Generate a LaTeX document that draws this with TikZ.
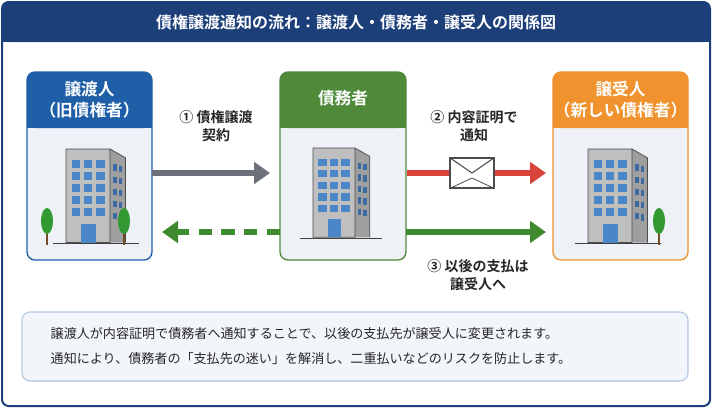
\documentclass[tikz,border=0pt]{standalone}
\usepackage{fontspec}
\setmainfont{Noto Sans CJK JP}[BoldFont={Noto Sans CJK JP Bold}]
\usetikzlibrary{arrows.meta,decorations.pathmorphing}
\definecolor{navy}{HTML}{1C3F7A}
\definecolor{hblue}{HTML}{1F5FA8}
\definecolor{hgreen}{HTML}{4E8A3A}
\definecolor{horange}{HTML}{F0922E}
\definecolor{bodyg}{HTML}{EEF2F7}
\definecolor{win}{HTML}{4A86C8}
\definecolor{redA}{HTML}{D9443A}
\definecolor{greenA}{HTML}{3F8A2E}
\definecolor{grayA}{HTML}{6B7079}
\tikzset{
 card/.style={draw=#1,line width=1pt,rounded corners=6,fill=bodyg},
 htext/.style={text=white,font=\bfseries\fontsize{12.5}{15.5}\selectfont,align=center},
 lab/.style={font=\bfseries\fontsize{10.5}{14}\selectfont,align=center,text=black!85},
 pics/bldg/.style={code={
   \fill[gray!50] (0,0) rectangle (40,85);
   \fill[gray!75] (40,0)--(54,8)--(54,85)--(40,85)--cycle;
   \draw[black!70,line width=0.6pt] (0,0) rectangle (40,85) (40,0)--(54,8)--(54,85);
   \foreach \i in {0,1,2} \foreach \j in {0,...,4}
     \fill[win] (5+\i*11,10+\j*11) rectangle ++(8,7);
   \foreach \j in {0,...,4} {\fill[win!80!black] (43,14+\j*11) rectangle ++(3,6);
     \fill[win!80!black] (48,15+\j*11) rectangle ++(3,6);}
   \fill[win] (14,68) rectangle (27,85);
   \draw[black!75,line width=1pt] (-12,86)--(66,86);
 }},
 pics/tree/.style={code={
   \fill[brown!60!black] (-1,0) rectangle (1,-12);
   \fill[green!50!black!80] (0,-24) ellipse (6 and 13);
 }}
}
\begin{document}
\begin{tikzpicture}[x=0.75pt,y=-0.75pt]
\useasboundingbox (0,0) rectangle (712,408);
\fill[white] (0,0) rectangle (712,408);
\draw[navy,line width=1.5pt,rounded corners=5,fill=white] (2,2) rectangle (710,406);
\fill[navy,rounded corners=5] (2,2) rectangle (710,42);
\fill[navy] (2,25) rectangle (710,42);
\node[text=white,font=\bfseries\fontsize{12}{14}\selectfont] (title) at (356,22) {債権譲渡通知の流れ：譲渡人・債務者・譲受人の関係図};
\draw[card=hblue] (27,72) rectangle (152,260);
\fill[hblue,rounded corners=6] (27,72) rectangle (152,128);
\fill[hblue] (27,110) rectangle (152,128);
\node[htext] (left) at (89.5,100) {譲渡人\\（旧債権者）};
\draw[card=hgreen] (280,72) rectangle (406,260);
\fill[hgreen,rounded corners=6] (280,72) rectangle (406,128);
\fill[hgreen] (280,110) rectangle (406,128);
\node[htext] (mid) at (343,98) {債務者};
\draw[card=horange] (553,72) rectangle (688,260);
\fill[horange,rounded corners=6] (553,72) rectangle (688,128);
\fill[horange] (553,110) rectangle (688,128);
\node[htext] (right) at (620.5,100) {譲受人\\（新しい債権者）};
\pic[scale=1.1] at (66,149) {bldg};
\pic at (47,245) {tree};
\pic at (124,245) {tree};
\pic[scale=1.05] at (313,148) {bldg};
\pic[scale=1.1] at (588,149) {bldg};
\pic at (659,245) {tree};
\coordinate (a1s) at (152,173); \coordinate (a1e) at (270,173);
\draw[grayA,line width=5pt,-{Triangle[length=12pt,width=16pt]}] (a1s)--(a1e);
\node[lab] (l1) at (216,126) {① 債権譲渡\\契約};
\node[draw=black!70,fill=white,line width=0.8pt,minimum width=44pt*0.75,minimum height=30pt*0.75,inner sep=0] (env) at (472,173) {};
\draw[black!70,line width=0.8pt] (env.north west)--(env.center)--(env.north east);
\draw[black!70,line width=0.6pt] (env.south west)--(472,178)--(env.south east);
\coordinate (r1) at (407,173); \coordinate (r3) at (546,173);
\draw[redA,line width=5pt] (r1)--(env.west);
\draw[redA,line width=5pt,-{Triangle[length=12pt,width=16pt]}] (env.east)--(r3);
\node[lab] (l2) at (474,126) {② 内容証明で\\通知};
\coordinate (g1) at (280,232); \coordinate (g2) at (162,232);
\draw[greenA,line width=5pt,dash pattern=on 10pt off 7pt,-{Triangle[length=12pt,width=16pt]}] (g1)--(g2);
\coordinate (g3) at (406,232); \coordinate (g4) at (546,232);
\draw[greenA,line width=5pt,-{Triangle[length=12pt,width=16pt]}] (g3)--(g4);
\node[lab] (l3) at (478,275) {③ 以後の支払は\\譲受人へ};
\draw[draw=hblue!35,fill=hblue!6,rounded corners=6,line width=0.8pt] (22,312) rectangle (688,381);
\node[anchor=west,align=left,font=\fontsize{9.8}{18.5}\selectfont,text=black!85] (note) at (46,346)
 {譲渡人が内容証明で債務者へ通知することで、以後の支払先が譲受人に変更されます。\\通知により、債務者の「支払先の迷い」を解消し、二重払いなどのリスクを防止します。};
\end{tikzpicture}
\end{document}
